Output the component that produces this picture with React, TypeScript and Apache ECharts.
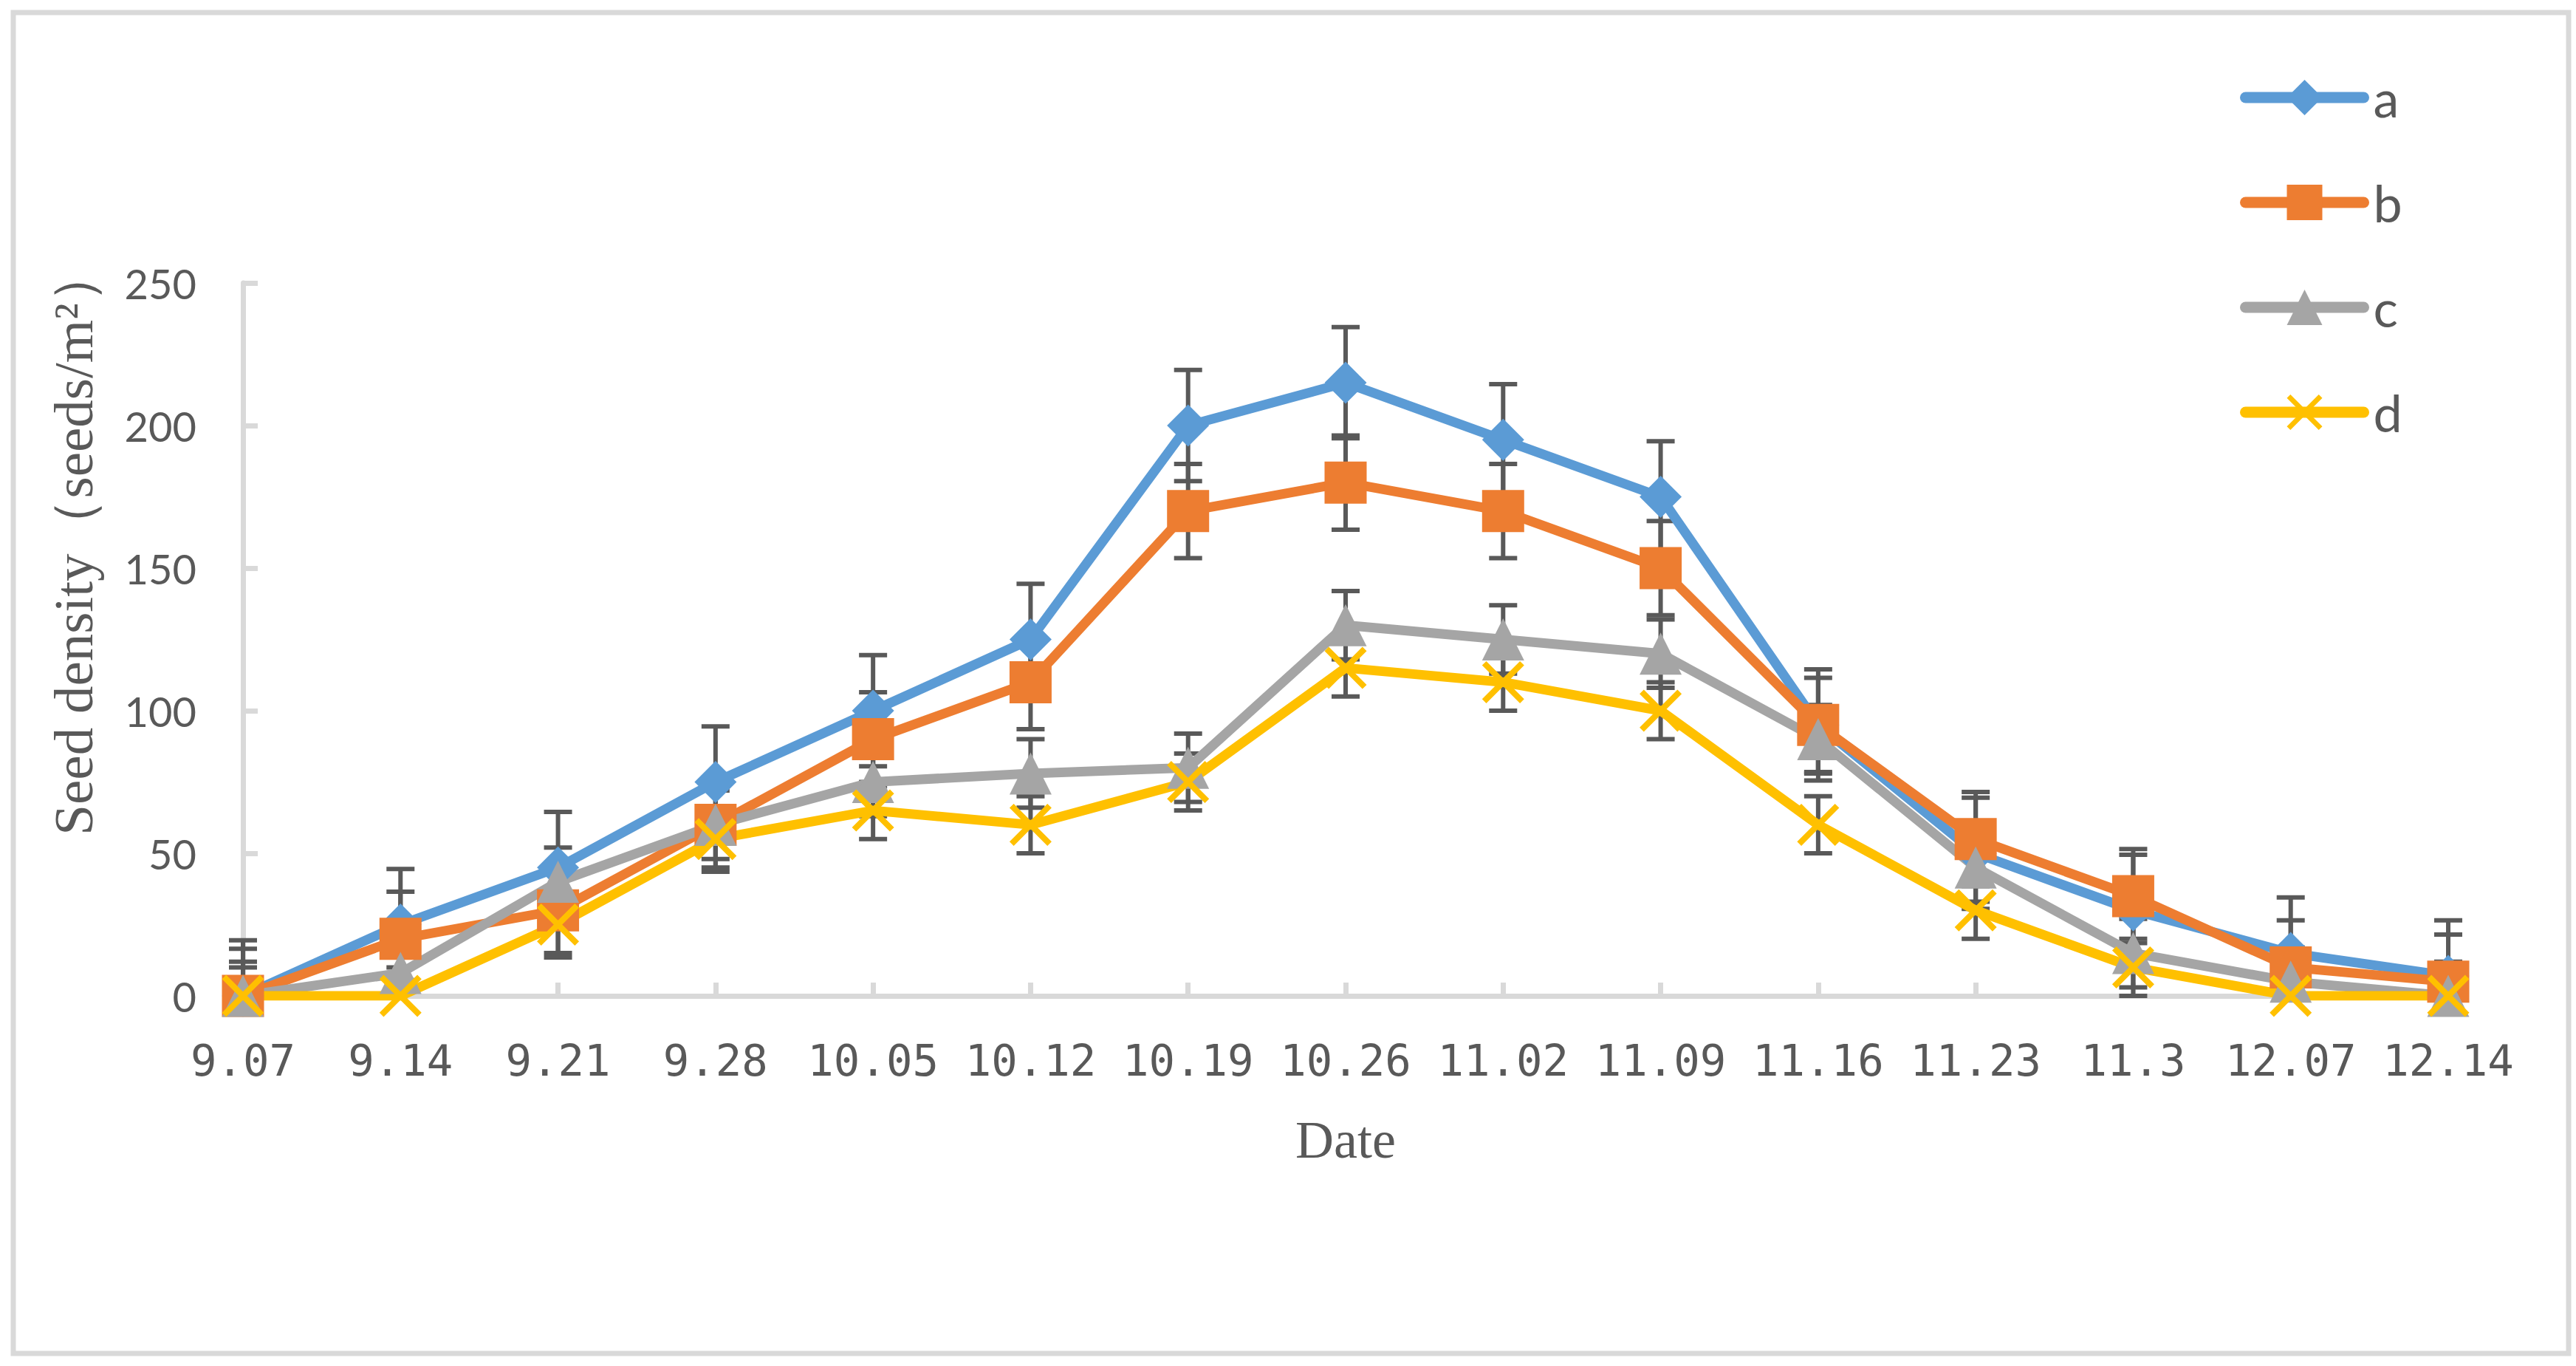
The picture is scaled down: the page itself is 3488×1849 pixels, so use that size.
import React, { useEffect, useRef } from "react";
import * as echarts from "echarts";

const categories = ["9.07", "9.14", "9.21", "9.28", "10.05", "10.12", "10.19", "10.26", "11.02", "11.09", "11.16", "11.23", "11.3", "12.07", "12.14"];
const seriesNames = ["a", "b", "c", "d"];
const valuesA = [0, 25, 45, 75, 100, 125, 200, 215, 195, 175, 95, 50, 30, 15, 7];
const valuesB = [0, 20, 30, 60, 90, 110, 170, 180, 170, 150, 95, 55, 35, 10, 5];
const valuesC = [0, 8, 40, 60, 75, 78, 80, 130, 125, 120, 90, 45, 15, 5, 0];
const valuesD = [0, 0, 25, 55, 65, 60, 75, 115, 110, 100, 60, 30, 10, 0, 0];
const errorsA = [19.5, 19.5, 19.5, 19.5, 19.5, 19.5, 19.5, 19.5, 19.5, 19.5, 19.5, 19.5, 19.5, 19.5, 19.5];
const errorsB = [16.5, 16.5, 16.5, 16.5, 16.5, 16.5, 16.5, 16.5, 16.5, 16.5, 16.5, 16.5, 16.5, 16.5, 16.5];
const errorsC = [12, 12, 12, 12, 12, 12, 12, 12, 12, 12, 12, 12, 12, 12, 12];
const errorsD = [10, 10, 10, 10, 10, 10, 10, 10, 10, 10, 10, 10, 10, 10, 10];
const yTicks = { min: 0, max: 250, interval: 50 };

const colors = ["#5B9BD5", "#ED7D31", "#A5A5A5", "#FFC000"];
const symbols = [
  "diamond",
  "rect",
  "triangle",
  "path://M0,10 L10,0 L100,90 L90,100 Z M90,0 L100,10 L10,100 L0,90 Z",
];
const allValues = [valuesA, valuesB, valuesC, valuesD];
const allErrors = [errorsA, errorsB, errorsC, errorsD];

function buildOption() {
  const lineSeries = seriesNames.map((name, si) => ({
    name,
    type: "line",
    data: allValues[si],
    symbol: symbols[si],
    symbolSize: 57,
    showAllSymbol: true,
    z: 3,
    lineStyle: { width: 13, color: colors[si], cap: "round", join: "round" },
    itemStyle: { color: colors[si], borderWidth: 0 },
    emphasis: { disabled: true },
  }));

  const errSeries = seriesNames.map((name, si) => ({
    name: "err-" + name,
    type: "custom",
    z: 2,
    silent: true,
    data: categories.map((_c, i) => [i, allValues[si][i], allErrors[si][i]]),
    encode: { x: 0, y: 1 },
    renderItem: (_params: any, api: any) => {
      const x = api.value(0);
      const v = api.value(1);
      const e = api.value(2);
      const lo = Math.max(0, v - e);
      const hi = v + e;
      const pTop = api.coord([x, hi]);
      const pBot = api.coord([x, lo]);
      const half = 19;
      const st = { stroke: "#595959", lineWidth: 6 };
      const children: any[] = [
        { type: "line", shape: { x1: pTop[0], y1: pTop[1], x2: pBot[0], y2: pBot[1] }, style: st },
        { type: "line", shape: { x1: pTop[0] - half, y1: pTop[1], x2: pTop[0] + half, y2: pTop[1] }, style: st },
      ];
      if (v - e >= 0) {
        children.push({ type: "line", shape: { x1: pBot[0] - half, y1: pBot[1], x2: pBot[0] + half, y2: pBot[1] }, style: st });
      }
      return { type: "group", children };
    },
  }));

  return {
    animation: false,
    backgroundColor: "#ffffff",
    grid: { left: 329, right: 173, top: 383, bottom: 501 },
    legend: {
      orient: "vertical",
      left: 3028,
      top: 92,
      itemWidth: 160,
      itemHeight: 60,
      itemGap: 72,
      data: seriesNames,
      selectedMode: false,
      textStyle: { fontFamily: "Lato", fontSize: 70, color: "#595959", lineHeight: 60, padding: [0, 0, 0, 8] },
      lineStyle: { width: 15, cap: "round" },
    },
    xAxis: {
      type: "category",
      data: categories,
      boundaryGap: false,
      axisLine: { show: true, lineStyle: { color: "#D9D9D9", width: 7 } },
      axisTick: { show: true, inside: true, length: 18, lineStyle: { color: "#D9D9D9", width: 7 } },
      axisLabel: { interval: 0, margin: 58, fontFamily: "DejaVu Sans Mono", fontSize: 59, color: "#595959" },
      splitLine: { show: false },
    },
    yAxis: {
      type: "value",
      min: yTicks.min,
      max: yTicks.max,
      interval: yTicks.interval,
      axisLine: { show: true, lineStyle: { color: "#D9D9D9", width: 7 } },
      axisTick: { show: true, inside: true, length: 20, lineStyle: { color: "#D9D9D9", width: 7 } },
      axisLabel: { margin: 63, fontFamily: "Lato", fontSize: 56, color: "#595959" },
      splitLine: { show: false },
    },
    graphic: [
      {
        type: "rect",
        silent: true,
        z: -10,
        shape: { x: 18, y: 17, width: 3460, height: 1815 },
        style: { fill: "none", stroke: "#D9D9D9", lineWidth: 7 },
      },
      {
        type: "text",
        silent: true,
        x: 99,
        y: 733,
        rotation: Math.PI / 2,
        style: {
          text: "Seed density（seeds/m²）",
          fontFamily: "Liberation Serif",
          fontSize: 75,
          fill: "#595959",
          align: "center",
          verticalAlign: "middle",
        },
      },
      {
        type: "text",
        silent: true,
        x: 1822,
        y: 1543,
        style: {
          text: "Date",
          fontFamily: "Liberation Serif",
          fontSize: 72,
          fill: "#595959",
          align: "center",
          verticalAlign: "middle",
        },
      },
    ],
    series: [...errSeries, ...lineSeries],
  };
}

export default function App() {
  const ref = useRef<HTMLDivElement>(null);
  useEffect(() => {
    if (!ref.current) return;
    const chart = echarts.init(ref.current, null, { renderer: "svg" });
    chart.setOption(buildOption() as any);
    return () => chart.dispose();
  }, []);
  return (
    <div
      ref={ref}
      style={{ position: "fixed", left: 0, top: 0, width: 3488, height: 1849, background: "#ffffff" }}
    />
  );
}
